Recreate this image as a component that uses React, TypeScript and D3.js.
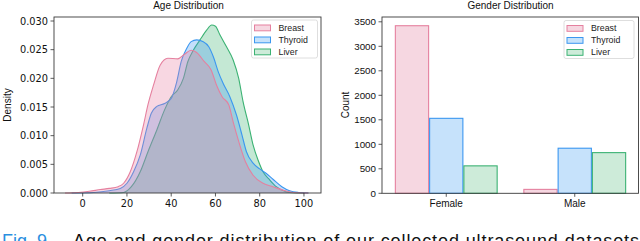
import React from "react";
import * as d3 from "d3";

const seriesNames = ["Breast", "Thyroid", "Liver"];
const edgeColors = ["#e5809f", "#3b97f0", "#3bb273"];
const fillColors = ["#e8799e", "#3a96f2", "#3cb371"];
const barFills = ["#f6d7e1", "#c6e2fb", "#cdebd9"];

const breastAge = [-8, -2, 3, 8, 12, 16, 18.5, 21.5, 24.5, 27.5, 29.5, 32, 35, 38.5, 43, 46, 49, 51.5, 55, 58, 60.5, 63, 66, 68, 70.5, 73.5, 77, 81.5, 86, 90.5, 95, 102];
const breastDensity = [0, 0.0001, 0.0003, 0.0006, 0.0008, 0.0011, 0.0017, 0.0037, 0.0072, 0.0119, 0.0154, 0.0188, 0.0223, 0.0235, 0.0234, 0.0242, 0.0249, 0.0245, 0.0229, 0.0215, 0.0188, 0.0168, 0.0154, 0.0124, 0.009, 0.0055, 0.0031, 0.0017, 0.0011, 0.0005, 0.0001, 0];

const thyroidAge = [-5, 5, 12, 17, 20, 23, 26, 29, 31, 33.5, 37, 40, 42.5, 44.5, 47, 49, 51.5, 54.5, 57, 59, 61.5, 63.5, 66.5, 69.5, 72, 74, 77, 80, 83, 86, 90, 93.5, 97.5, 102];
const thyroidDensity = [0, 0.0001, 0.0004, 0.0008, 0.0017, 0.0037, 0.0066, 0.0113, 0.0139, 0.0151, 0.0156, 0.0165, 0.0194, 0.0229, 0.0252, 0.0264, 0.0267, 0.0264, 0.0255, 0.0238, 0.0209, 0.0191, 0.0168, 0.0136, 0.0101, 0.0072, 0.0052, 0.0042, 0.0034, 0.0024, 0.0011, 0.0004, 0.0001, 0];

const liverAge = [12, 18.5, 22, 26, 29.5, 33.5, 37, 40, 43, 45.5, 47.5, 50, 53, 56, 58.3, 60, 62, 65, 68, 70.5, 72.5, 75, 77, 79.5, 81.5, 84.5, 87.5, 92, 95, 100];
const liverDensity = [0, 0.0001, 0.0011, 0.0037, 0.0072, 0.011, 0.0145, 0.0168, 0.018, 0.02, 0.0229, 0.0249, 0.0267, 0.0284, 0.0293, 0.0291, 0.0276, 0.0255, 0.0232, 0.02, 0.0159, 0.0119, 0.0084, 0.0055, 0.0037, 0.0023, 0.0011, 0.0002, 0.00005, 0];

const ageTicks = [0, 20, 40, 60, 80, 100];
const densityTicks = [0, 0.005, 0.01, 0.015, 0.02, 0.025, 0.03];

const genders = ["Female", "Male"];
const breastCounts = [3420, 80];
const thyroidCounts = [1530, 920];
const liverCounts = [560, 830];
const countTicks = [0, 500, 1000, 1500, 2000, 2500, 3000, 3500];

const SANS = "'Liberation Sans', Arial, sans-serif";
const DEJA = "'DejaVu Sans', sans-serif";

function Legend({ x, y, w }: { x: number; y: number; w: number }) {
  return (
    <g>
      <rect x={x} y={y} width={w} height={38} rx={2} fill="#fff" fillOpacity={0.85} stroke="#d6d6d6" strokeWidth={0.8} />
      {seriesNames.map((n, i) => (
        <g key={n}>
          <rect x={x + 3} y={y + 5 + i * 12} width={16} height={5.8} fill={barFills[i]} stroke={edgeColors[i]} strokeWidth={1} />
          <text x={x + 27} y={y + 10.5 + i * 12} fontFamily={SANS} fontSize={8.8} fill="#222">{n}</text>
        </g>
      ))}
    </g>
  );
}

export default function App() {
  const L = { l: 54, r: 321, t: 17, b: 193 };
  const xA = d3.scaleLinear().domain([-12.97, 107.7]).range([L.l, L.r]);
  const yA = d3.scaleLinear().domain([0, 0.03]).range([193, 21]);
  const kdes = [
    [breastAge, breastDensity],
    [thyroidAge, thyroidDensity],
    [liverAge, liverDensity],
  ];
  const area = d3.area<[number, number]>().x((d) => xA(d[0])).y0(yA(0)).y1((d) => yA(d[1])).curve(d3.curveMonotoneX);
  const line = d3.line<[number, number]>().x((d) => xA(d[0])).y((d) => yA(d[1])).curve(d3.curveMonotoneX);
  const order = [2, 1, 0];

  const R = { l: 382, r: 639, t: 17, b: 193.3 };
  const xB = d3.scaleLinear().domain([-0.5, 1.5]).range([R.l, R.r]);
  const yB = d3.scaleLinear().domain([0, 3500]).range([193.3, 21.8]);
  const counts = [breastCounts, thyroidCounts, liverCounts];
  const bw = 0.8 / 3;

  return (
    <svg width={640} height={241} style={{ position: "absolute", left: 0, top: 0, background: "#fff" }}>
      <rect width={640} height={241} fill="#fff" />
      <text x={(L.l + L.r) / 2 + 1} y={9} textAnchor="middle" fontFamily={SANS} fontSize={10} fill="#111">Age Distribution</text>
      <g>
        {order.map((i) => {
          const [a, dd] = kdes[i];
          const pts = a.map((v, k) => [v, dd[k]] as [number, number]);
          return (
            <g key={i}>
              <path d={area(pts) || ""} fill={fillColors[i]} fillOpacity={0.3} />
              <path d={line(pts) || ""} fill="none" stroke={edgeColors[i]} strokeWidth={1.1} />
            </g>
          );
        })}
      </g>
      <rect x={L.l} y={L.t} width={L.r - L.l} height={L.b - L.t} fill="none" stroke="#3a3a3a" strokeWidth={0.9} />
      {densityTicks.map((t) => (
        <g key={t}>
          <line x1={L.l - 3.5} x2={L.l} y1={yA(t)} y2={yA(t)} stroke="#333" strokeWidth={0.8} />
          <text x={L.l - 6} y={yA(t) + 3.6} textAnchor="end" fontFamily={DEJA} fontSize={9.8} fill="#111">{t.toFixed(3)}</text>
        </g>
      ))}
      {ageTicks.map((t) => (
        <g key={t}>
          <line x1={xA(t)} x2={xA(t)} y1={L.b} y2={L.b + 3.5} stroke="#333" strokeWidth={0.8} />
          <text x={xA(t)} y={L.b + 13.5} textAnchor="middle" fontFamily={DEJA} fontSize={9.8} fill="#111">{t}</text>
        </g>
      ))}
      <text transform={`translate(10.5,105) rotate(-90)`} textAnchor="middle" fontFamily={SANS} fontSize={10} fill="#111">Density</text>
      <Legend x={251.5} y={20} w={66} />

      <text x={(R.l + R.r) / 2} y={9} textAnchor="middle" fontFamily={SANS} fontSize={10} fill="#111">Gender Distribution</text>
      {counts.map((arr, i) =>
        arr.map((v, g) => {
          const x0 = xB(g - 0.4 + i * bw);
          const x1 = xB(g - 0.4 + (i + 1) * bw);
          return (
            <rect key={`${i}-${g}`} x={x0 + 0.5} y={yB(v)} width={x1 - x0 - 1} height={yB(0) - yB(v)} fill={barFills[i]} stroke={edgeColors[i]} strokeWidth={1.1} />
          );
        })
      )}
      <rect x={R.l} y={R.t} width={R.r - R.l - 0.5} height={R.b - R.t} fill="none" stroke="#3a3a3a" strokeWidth={0.9} />
      {countTicks.map((t) => (
        <g key={t}>
          <line x1={R.l - 3.5} x2={R.l} y1={yB(t)} y2={yB(t)} stroke="#333" strokeWidth={0.8} />
          <text x={R.l - 6} y={yB(t) + 3.6} textAnchor="end" fontFamily={SANS} fontSize={9.8} fill="#111">{t}</text>
        </g>
      ))}
      {genders.map((g, i) => (
        <g key={g}>
          <line x1={xB(i)} x2={xB(i)} y1={R.b} y2={R.b + 3.5} stroke="#333" strokeWidth={0.8} />
          <text x={xB(i)} y={R.b + 14} textAnchor="middle" fontFamily={SANS} fontSize={10} fill="#111">{g}</text>
        </g>
      ))}
      <text transform={`translate(349,105) rotate(-90)`} textAnchor="middle" fontFamily={SANS} fontSize={10} fill="#111">Count</text>
      <Legend x={564} y={20.5} w={70} />

      <text x={2} y={247} fontFamily={SANS} fontSize={18} fill="#2a8fe0">Fig. 9.</text>
      <text x={73} y={247} fontFamily={SANS} fontSize={18} fill="#111" textLength={566} lengthAdjust="spacing">Age and gender distribution of our collected ultrasound datasets</text>
    </svg>
  );
}
